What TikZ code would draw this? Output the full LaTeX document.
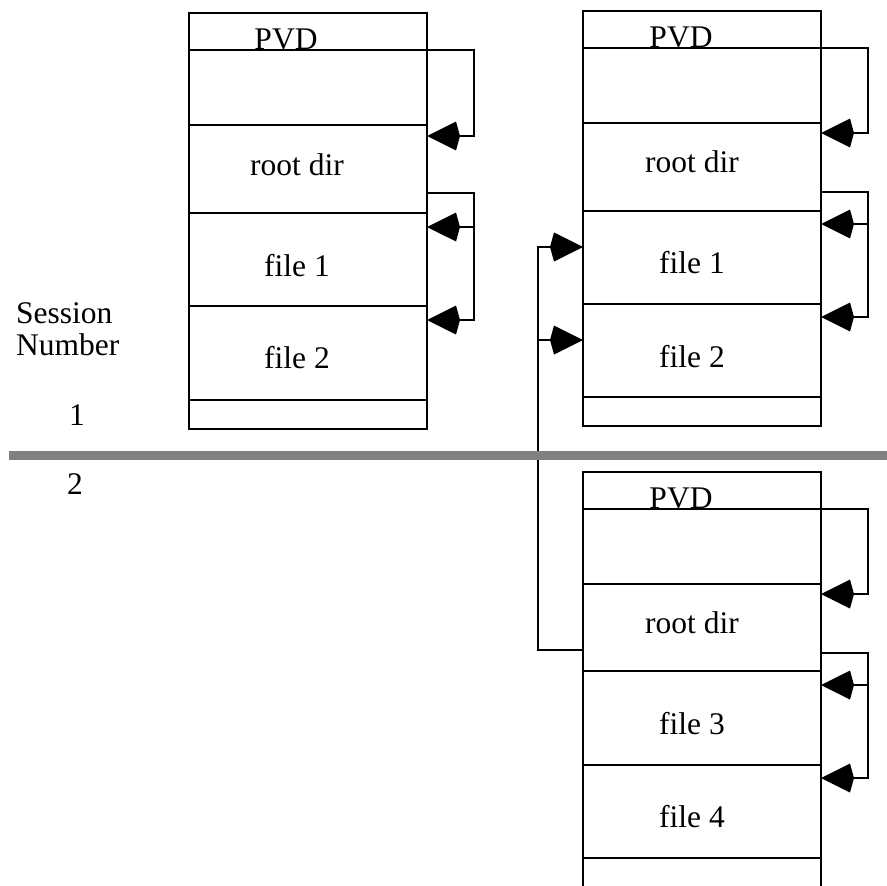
\documentclass[tikz,border=0pt]{standalone}
\usepackage{fontspec}
\setmainfont{Liberation Serif}
\usetikzlibrary{arrows.meta}
\definecolor{bargray}{HTML}{808080}
\begin{document}
\begin{tikzpicture}[x=1pt,y=-1pt,
  cell/.style={draw, line width=2.4pt, minimum width=238pt, inner sep=0pt, outer sep=0pt, anchor=north west},
  lbl/.style={inner sep=0pt, anchor=base, font=\fontsize{31.5}{36}\selectfont},
  ptr/.style={line width=2.4pt, -{Kite[length=33pt,width=29pt,inset=4pt]}},
  wire/.style={line width=2.4pt}]
\useasboundingbox (0,0) rectangle (887,886);
% Box 1 (session 1)
\node[cell, minimum height=37pt] (a0) at (189,13) {};
\node[cell, minimum height=75pt] (a1) at (189,50) {};
\node[cell, minimum height=88pt] (a2) at (189,125) {};
\node[cell, minimum height=93pt] (a3) at (189,213) {};
\node[cell, minimum height=94pt] (a4) at (189,306) {};
\node[cell, minimum height=29pt] (a5) at (189,400) {};
\node[lbl] (ta0) at (286,49) {PVD};
\node[lbl] (ta2) at (297,175) {root dir};
\node[lbl] (ta3) at (297,276) {file 1};
\node[lbl] (ta4) at (297,368) {file 2};
\draw[ptr] (a1.north east) -- ++(47,0) |- ([yshift=-11pt]a2.north east);
\draw[ptr] ([yshift=20pt]a2.south east) -- ++(47,0) |- ([yshift=-14pt]a4.north east);
\draw[ptr] ([xshift=47pt,yshift=-14pt]a3.north east) -- ([yshift=-14pt]a3.north east);
% Box 2 (session 2, upper part)
\node[cell, minimum height=37pt] (b0) at (583,11) {};
\node[cell, minimum height=75pt] (b1) at (583,48) {};
\node[cell, minimum height=88pt] (b2) at (583,123) {};
\node[cell, minimum height=93pt] (b3) at (583,211) {};
\node[cell, minimum height=93pt] (b4) at (583,304) {};
\node[cell, minimum height=29pt] (b5) at (583,397) {};
\node[lbl] (tb0) at (681,47) {PVD};
\node[lbl] (tb2) at (692,172) {root dir};
\node[lbl] (tb3) at (692,273) {file 1};
\node[lbl] (tb4) at (692,367) {file 2};
\draw[ptr] (b1.north east) -- ++(47,0) |- ([yshift=-10pt]b2.north east);
\draw[ptr] ([yshift=19pt]b2.south east) -- ++(47,0) |- ([yshift=-13pt]b4.north east);
\draw[ptr] ([xshift=47pt,yshift=-13pt]b3.north east) -- ([yshift=-13pt]b3.north east);
% Box 3 (session 2, lower part)
\node[cell, minimum height=37pt] (c0) at (583,472) {};
\node[cell, minimum height=75pt] (c1) at (583,509) {};
\node[cell, minimum height=87pt] (c2) at (583,584) {};
\node[cell, minimum height=94pt] (c3) at (583,671) {};
\node[cell, minimum height=93pt] (c4) at (583,765) {};
\node[cell, minimum height=45pt] (c5) at (583,858) {};
\node[lbl] (tc0) at (681,508) {PVD};
\node[lbl] (tc2) at (692,633) {root dir};
\node[lbl] (tc3) at (692,734) {file 3};
\node[lbl] (tc4) at (692,827) {file 4};
\draw[ptr] (c1.north east) -- ++(47,0) |- ([yshift=-10pt]c2.north east);
\draw[ptr] ([yshift=18pt]c2.south east) -- ++(47,0) |- ([yshift=-13pt]c4.north east);
\draw[ptr] ([xshift=47pt,yshift=-14pt]c3.north east) -- ([yshift=-14pt]c3.north east);
% New root dir pointing back to old files
\draw[ptr] ([yshift=21pt]c2.south west) -- ++(-45,0) |- ([yshift=-36pt]b3.north west);
\draw[ptr] ([xshift=-45pt,yshift=-36pt]b4.north west) -- ([yshift=-36pt]b4.north west);
% Session separator
\coordinate (sepL) at (9,455);
\coordinate (sepR) at (887,455);
\draw[bargray, line width=9pt] (sepL) -- (sepR);
% Session labels
\node[lbl, anchor=base west] (ses) at (16,323) {Session};
\node[lbl, anchor=base west] (num) at (16,355) {Number};
\node[lbl] (s1) at (77,425) {1};
\node[lbl] (s2) at (75,494) {2};
\end{tikzpicture}
\end{document}
